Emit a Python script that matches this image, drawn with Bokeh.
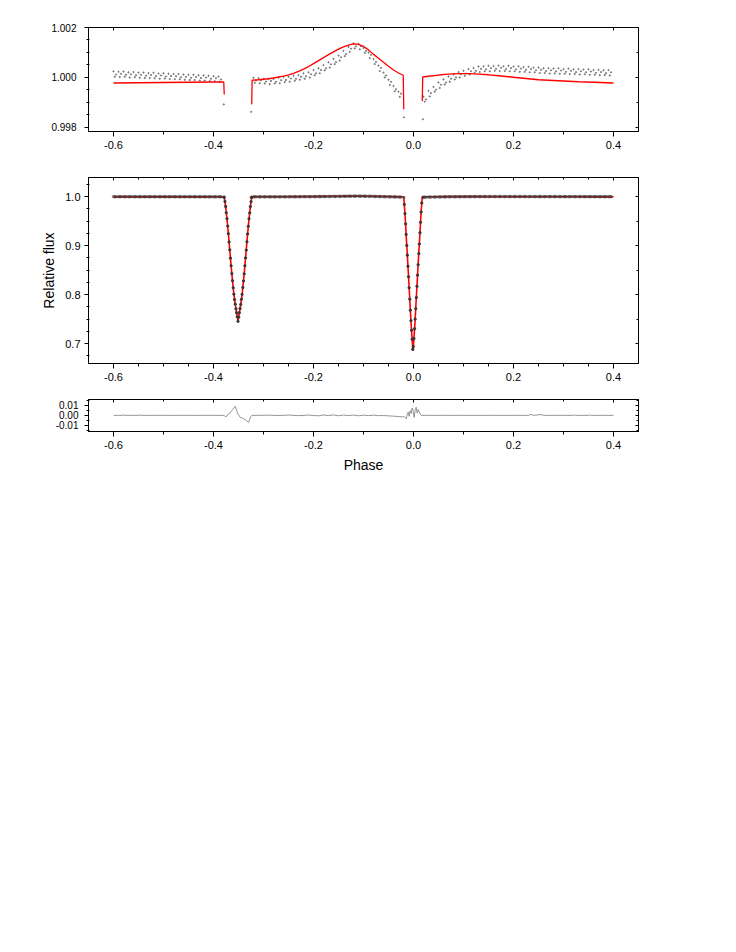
from bokeh.plotting import figure
from bokeh.layouts import column
from bokeh.models import (ColumnDataSource, Range1d, LinearAxis, FixedTicker,
                          NumeralTickFormatter, CustomLabelingPolicy)
from bokeh.transform import dodge
from bokeh.embed import file_html
from bokeh.resources import INLINE

FONT = "Liberation Sans"

# ---------------- tick positions ----------------
X_TICKS = [-0.6, -0.4, -0.2, 0.0, 0.2, 0.4]
X_MINOR_COARSE = [-0.5, -0.3, -0.1, 0.1, 0.3]
X_MINOR_FINE = [-0.55, -0.5, -0.45, -0.35, -0.3, -0.25, -0.15, -0.1, -0.05,
                0.05, 0.1, 0.15, 0.25, 0.3, 0.35]
TOP_Y_TICKS = [0.998, 1.000, 1.002]
TOP_Y_MINOR = [0.9985, 0.999, 0.9995, 1.0005, 1.001, 1.0015]
TOP_Y_MINOR_R = [0.999, 1.001]
MID_Y_TICKS = [0.7, 0.8, 0.9, 1.0]
MID_Y_MINOR = [0.675, 0.725, 0.75, 0.775, 0.825, 0.85, 0.875, 0.925, 0.95,
               0.975, 1.025]
MID_Y_MINOR_R = [0.75, 0.85, 0.95]
RES_Y_TICKS = [-0.01, 0.0, 0.01]
RES_Y_MINOR = [-0.015, -0.005, 0.005, 0.015]

# ---------------- out-of-eclipse data (three rows of the scatter band) ----------------
left_phase = [-0.60, -0.59, -0.58, -0.57, -0.56, -0.55, -0.54, -0.53, -0.52, -0.51,
              -0.50, -0.49, -0.48, -0.47, -0.46, -0.45, -0.44, -0.43, -0.42, -0.41,
              -0.40, -0.39]
left_hi = [1.00024, 1.00022, 1.00023, 1.00020, 1.00021, 1.00019, 1.00019, 1.00017, 1.00018, 1.00015,
           1.00016, 1.00014, 1.00013, 1.00013, 1.00011, 1.00010, 1.00010, 1.00008, 1.00007, 1.00006,
           1.00004, 1.00003]
left_mid = [1.00011, 1.00014, 1.00010, 1.00012, 1.00008, 1.00010, 1.00006, 1.00009, 1.00005, 1.00007,
            1.00003, 1.00005, 1.00004, 1.00000, 1.00002, 0.99998, 1.00001, 0.99997, 0.99999, 0.99994,
            0.99996, 0.99991]
left_lo = [1.00002, 1.00001, 1.00002, 0.99999, 1.00000, 0.99998, 0.99997, 0.99997, 0.99996, 0.99994,
           0.99995, 0.99993, 0.99992, 0.99992, 0.99990, 0.99989, 0.99989, 0.99987, 0.99987, 0.99985,
           0.99984, 0.99982]

mid_phase = [-0.32, -0.31, -0.30, -0.29, -0.28, -0.27, -0.26, -0.25, -0.24, -0.23,
             -0.22, -0.21, -0.20, -0.19, -0.18, -0.17, -0.16, -0.15, -0.14, -0.13,
             -0.12, -0.11, -0.10, -0.09, -0.08, -0.07, -0.06, -0.05, -0.04, -0.03]
mid_hi = [0.99998, 0.99997, 0.99993, 0.99994, 0.99993, 0.99998, 1.00001, 1.00002, 1.00006, 1.00009,
          1.00016, 1.00020, 1.00029, 1.00036, 1.00049, 1.00060, 1.00074, 1.00087, 1.00106, 1.00122,
          1.00136, 1.00134, 1.00118, 1.00099, 1.00073, 1.00047, 1.00019, 0.99990, 0.99965, 0.99942]
mid_mid = [0.99987, 0.99988, 0.99983, 0.99985, 0.99982, 0.99988, 0.99989, 0.99995, 0.99994, 1.00002,
           1.00004, 1.00012, 1.00016, 1.00029, 1.00036, 1.00052, 1.00061, 1.00080, 1.00093, 1.00115,
           1.00124, 1.00125, 1.00106, 1.00090, 1.00061, 1.00038, 1.00007, 0.99982, 0.99952, 0.99934]
mid_lo = [0.99978, 0.99976, 0.99975, 0.99972, 0.99975, 0.99976, 0.99981, 0.99982, 0.99986, 0.99990,
          0.99994, 0.99999, 1.00008, 1.00016, 1.00028, 1.00039, 1.00053, 1.00067, 1.00085, 1.00102,
          1.00116, 1.00112, 1.00098, 1.00077, 1.00053, 1.00025, 0.99999, 0.99969, 0.99944, 0.99921]

right_phase = [0.02, 0.03, 0.04, 0.05, 0.06, 0.07, 0.08, 0.09, 0.10, 0.11,
               0.12, 0.13, 0.14, 0.15, 0.16, 0.17, 0.18, 0.19, 0.20, 0.21,
               0.22, 0.23, 0.24, 0.25, 0.26, 0.27, 0.28, 0.29, 0.30, 0.31,
               0.32, 0.33, 0.34, 0.35, 0.36, 0.37, 0.38, 0.39]
right_hi = [0.99922, 0.99945, 0.99961, 0.99979, 0.99991, 1.00003, 1.00011, 1.00021, 1.00026, 1.00033,
            1.00037, 1.00043, 1.00044, 1.00046, 1.00045, 1.00047, 1.00044, 1.00046, 1.00043, 1.00044,
            1.00041, 1.00042, 1.00039, 1.00039, 1.00036, 1.00037, 1.00035, 1.00036, 1.00033, 1.00035,
            1.00032, 1.00033, 1.00031, 1.00032, 1.00029, 1.00030, 1.00028, 1.00029]
right_mid = [0.99911, 0.99936, 0.99950, 0.99970, 0.99979, 0.99994, 1.00000, 1.00012, 1.00015, 1.00024,
             1.00026, 1.00034, 1.00032, 1.00037, 1.00034, 1.00038, 1.00033, 1.00037, 1.00032, 1.00035,
             1.00030, 1.00033, 1.00028, 1.00030, 1.00025, 1.00028, 1.00024, 1.00027, 1.00022, 1.00026,
             1.00021, 1.00024, 1.00020, 1.00023, 1.00018, 1.00021, 1.00017, 1.00020]
right_lo = [0.99902, 0.99923, 0.99942, 0.99957, 0.99971, 0.99982, 0.99991, 0.99999, 1.00006, 1.00011,
            1.00018, 1.00021, 1.00024, 1.00024, 1.00026, 1.00025, 1.00025, 1.00024, 1.00024, 1.00022,
            1.00022, 1.00020, 1.00020, 1.00017, 1.00017, 1.00015, 1.00016, 1.00014, 1.00014, 1.00013,
            1.00013, 1.00011, 1.00012, 1.00010, 1.00010, 1.00008, 1.00009, 1.00007]

# isolated points at the eclipse edges
edge_phase = [-0.3794, -0.3246, -0.0192, 0.0188]
edge_flux = [0.99891, 0.99861, 0.99839, 0.99831]

# ---------------- in-eclipse data ----------------
sec_phase = [-0.3785, -0.3771, -0.3757, -0.3744, -0.3730, -0.3716, -0.3703, -0.3689, -0.3675, -0.3661,
             -0.3648, -0.3634, -0.3620, -0.3606, -0.3593, -0.3579, -0.3565, -0.3551, -0.3538, -0.3524,
             -0.3510, -0.3496, -0.3483, -0.3469, -0.3455, -0.3441, -0.3428, -0.3414, -0.3400, -0.3386,
             -0.3373, -0.3359, -0.3345, -0.3331, -0.3318, -0.3304, -0.3290, -0.3276, -0.3263, -0.3249,
             -0.3235]
sec_flux = [0.9990, 0.9905, 0.9800, 0.9675, 0.9550, 0.9400, 0.9245, 0.9075, 0.8915, 0.8745,
            0.8590, 0.8430, 0.8285, 0.8140, 0.8010, 0.7900, 0.7805, 0.7710, 0.7630, 0.7545,
            0.7455, 0.7540, 0.7630, 0.7715, 0.7800, 0.7905, 0.8005, 0.8145, 0.8280, 0.8425,
            0.8590, 0.8750, 0.8910, 0.9080, 0.9240, 0.9395, 0.9550, 0.9670, 0.9800, 0.9900,
            0.9988]

pri_phase = [-0.0183, -0.0171, -0.0159, -0.0147, -0.0135, -0.0123, -0.0111, -0.0099, -0.0087, -0.0075,
             -0.0063, -0.0051, -0.0039, -0.0027, -0.0015, -0.0003, 0.0009, 0.0021, 0.0033, 0.0045,
             0.0057, 0.0069, 0.0081, 0.0093, 0.0105, 0.0117, 0.0129, 0.0141, 0.0153, 0.0165]
pri_flux = [0.9843, 0.9655, 0.9446, 0.9230, 0.9005, 0.8806, 0.8580, 0.8365, 0.8140, 0.7908,
            0.7682, 0.7467, 0.7272, 0.7090, 0.6885, 0.6940, 0.7105, 0.7303, 0.7500, 0.7712,
            0.7940, 0.8170, 0.8398, 0.8610, 0.8838, 0.9035, 0.9263, 0.9477, 0.9688, 0.9871]

# ---------------- model (red) ----------------
model_left_phase = [-0.60, -0.55, -0.50, -0.45, -0.40, -0.3795, -0.3785]
model_left_flux = [0.99977, 0.99978, 0.99979, 0.99980, 0.99981, 0.99981, 0.99931]

model_sec_phase = [-0.37575, -0.373, -0.37025, -0.3675, -0.36475, -0.362, -0.35925, -0.3565,
                   -0.35375, -0.351, -0.34825, -0.3455, -0.34275, -0.34, -0.33725, -0.3345,
                   -0.33175, -0.329, -0.32625]
model_sec_flux = [0.9798, 0.9546, 0.9243, 0.8914, 0.8586, 0.8283, 0.8005, 0.7803,
                  0.7627, 0.7475, 0.7627, 0.7803, 0.8005, 0.8283, 0.8586, 0.8914,
                  0.9243, 0.9546, 0.9798]

model_mid_phase = [-0.3235, -0.3228, -0.31, -0.30, -0.29, -0.28, -0.27, -0.26, -0.25, -0.24,
                   -0.23, -0.22, -0.21, -0.20, -0.19, -0.18, -0.17, -0.16, -0.15, -0.14,
                   -0.13, -0.12, -0.11, -0.10, -0.09, -0.08, -0.07, -0.06, -0.05, -0.04,
                   -0.03, -0.0205, -0.0195]
model_mid_flux = [0.99891, 0.99988, 0.99990, 0.99992, 0.99994, 0.99997, 1.00001, 1.00005, 1.00010, 1.00016,
                  1.00024, 1.00033, 1.00043, 1.00055, 1.00067, 1.00079, 1.00091, 1.00102, 1.00113, 1.00122,
                  1.00129, 1.00134, 1.00132, 1.00124, 1.00110, 1.00092, 1.00076, 1.00060, 1.00044, 1.00029,
                  1.00017, 1.00008, 0.99871]

model_pri_phase = [-0.01765, -0.0158, -0.01395, -0.0121, -0.01025, -0.0084, -0.00655, -0.0047,
                   -0.00285, -0.001, 0.00085, 0.0027, 0.00455, 0.0064, 0.00825, 0.0101,
                   0.01195, 0.0138, 0.01565]
model_pri_flux = [0.9748, 0.9433, 0.9087, 0.8772, 0.8425, 0.8079, 0.7732, 0.7386,
                  0.7102, 0.6850, 0.7102, 0.7386, 0.7732, 0.8079, 0.8425, 0.8772,
                  0.9087, 0.9433, 0.9748]

model_right_phase = [0.0175, 0.0185, 0.03, 0.05, 0.07, 0.09, 0.11, 0.13, 0.15, 0.17,
                     0.19, 0.21, 0.23, 0.25, 0.27, 0.30, 0.33, 0.36, 0.40]
model_right_flux = [0.99905, 1.00001, 1.00004, 1.00009, 1.00013, 1.00015, 1.00015, 1.00013, 1.00010, 1.00006,
                    1.00002, 0.99998, 0.99994, 0.99990, 0.99988, 0.99985, 0.99982, 0.99980, 0.99977]

# ---------------- residuals (O - C) ----------------
res_phase = [-0.600, -0.590, -0.583, -0.581, -0.579, -0.560, -0.549, -0.547, -0.545, -0.520,
             -0.500, -0.470, -0.450, -0.420, -0.400, -0.3787, -0.3753, -0.3720, -0.3667, -0.3620,
             -0.3567, -0.3520, -0.3467, -0.3420, -0.3353, -0.3300, -0.3253, -0.3233, -0.310, -0.290,
             -0.270, -0.250, -0.230, -0.210, -0.200, -0.190, -0.180, -0.170, -0.160, -0.150,
             -0.140, -0.130, -0.120, -0.110, -0.100, -0.090, -0.080, -0.070, -0.060, -0.050,
             -0.040, -0.030, -0.0213, -0.0180, -0.0146, -0.0126, -0.0106, -0.0086, -0.0066, -0.0046,
             -0.0026, -0.0006, 0.0014, 0.0034, 0.0054, 0.0074, 0.0094, 0.0114, 0.0134, 0.0154,
             0.030, 0.060, 0.100, 0.150, 0.200, 0.230, 0.235, 0.240, 0.255, 0.260,
             0.280, 0.300, 0.320, 0.322, 0.324, 0.350, 0.352, 0.354, 0.380, 0.400]
res_val = [0.0, 0.0, 0.0, 0.0006, 0.0, 0.0, 0.0, 0.0005, 0.0, 0.0,
           0.0, 0.0, 0.0, 0.0, 0.0, 0.0, -0.0017, 0.0007, 0.0023, 0.0057,
           0.0090, 0.0023, -0.0020, -0.0027, -0.0047, -0.0070, -0.0010, 0.0, 0.0, 0.0002,
           -0.0002, 0.0003, -0.0003, 0.0003, -0.0002, -0.0004, 0.0004, -0.0003, 0.0004, -0.0004,
           0.0003, -0.0003, 0.0003, -0.0004, 0.0002, -0.0003, 0.0002, -0.0003, -0.0002, -0.0005,
           -0.0008, -0.0012, -0.0015, -0.0014, -0.0034, 0.0007, 0.0033, -0.0010, 0.0047, 0.0017,
           0.0073, 0.0040, -0.0020, 0.0057, 0.0080, 0.0023, 0.0057, 0.0033, 0.0013, 0.0,
           0.0, 0.0, 0.0, 0.0, 0.0, 0.0, 0.0010, 0.0, 0.0008, 0.0,
           0.0, 0.0, 0.0, 0.0006, 0.0, 0.0, 0.0005, 0.0, 0.0, 0.0]

# ---------------- sources ----------------
band_src = ColumnDataSource(dict(
    phase=left_phase + mid_phase + right_phase,
    hi=left_hi + mid_hi + right_hi,
    mid=left_mid + mid_mid + right_mid,
    lo=left_lo + mid_lo + right_lo,
))
edge_src = ColumnDataSource(dict(phase=edge_phase, flux=edge_flux))
ecl_src = ColumnDataSource(dict(phase=sec_phase + pri_phase, flux=sec_flux + pri_flux))
full_model_src = ColumnDataSource(dict(
    phase=model_left_phase + model_sec_phase + model_mid_phase + model_pri_phase + model_right_phase,
    flux=model_left_flux + model_sec_flux + model_mid_flux + model_pri_flux + model_right_flux,
))
res_src = ColumnDataSource(dict(phase=res_phase, res=res_val))

X_RANGE = (-0.65, 0.45)
LEFT = 88


def base_fig(frame_h, yr, top_b, bot_b):
    p = figure(frame_width=550, frame_height=frame_h,
               x_range=Range1d(*X_RANGE), y_range=Range1d(*yr),
               output_backend="svg", toolbar_location=None,
               x_axis_location=None, y_axis_location=None,
               min_border_left=LEFT, min_border_right=10,
               min_border_top=top_b, min_border_bottom=bot_b,
               background_fill_color="white", border_fill_color="white")
    p.outline_line_color = "black"
    p.outline_line_width = 1
    p.outline_line_alpha = 1
    for g in p.grid:
        g.visible = False
    return p


def style(ax, label_size, standoff, t_out, t_in, m_out, m_in, labels=True):
    ax.axis_line_color = "black"
    ax.axis_line_width = 1
    ax.major_tick_line_color = "black"
    ax.minor_tick_line_color = "black"
    ax.major_tick_out = t_out
    ax.major_tick_in = t_in
    ax.minor_tick_out = m_out
    ax.minor_tick_in = m_in
    ax.major_label_text_font = FONT
    ax.major_label_text_color = "black"
    ax.major_label_text_font_style = "normal"
    ax.major_label_standoff = standoff
    ax.major_label_text_font_size = label_size
    if not labels:
        # frame-side tick marks only: draw no tick labels at all
        ax.major_label_policy = CustomLabelingPolicy(code="return []")


def add_axes(p, yticks, yminor, yminor_r, yfmt, xminor, ysize, ystand):
    xb = LinearAxis(ticker=FixedTicker(ticks=X_TICKS, minor_ticks=xminor),
                    formatter=NumeralTickFormatter(format="0.0"))
    style(xb, "11px", 4, 5, 0, 3, 0)
    p.add_layout(xb, "below")
    xa = LinearAxis(ticker=FixedTicker(ticks=X_TICKS, minor_ticks=xminor),
                    formatter=NumeralTickFormatter(format="0.0"))
    style(xa, "11px", 0, 0, 3, 0, 2, labels=False)
    p.add_layout(xa, "above")
    yl = LinearAxis(ticker=FixedTicker(ticks=yticks, minor_ticks=yminor),
                    formatter=NumeralTickFormatter(format=yfmt))
    style(yl, ysize, ystand, 4, 0, 2, 1)
    p.add_layout(yl, "left")
    yr = LinearAxis(ticker=FixedTicker(ticks=yticks, minor_ticks=yminor_r),
                    formatter=NumeralTickFormatter(format=yfmt))
    style(yr, "11px", 0, 0, 3, 0, 2, labels=False)
    p.add_layout(yr, "right")
    return xb, yl


# ---------------- top panel: zoom on out-of-eclipse flux ----------------
p1 = base_fig(104, (0.99782, 1.002), 27, 30)
add_axes(p1, TOP_Y_TICKS, TOP_Y_MINOR, TOP_Y_MINOR_R, "0.000", X_MINOR_COARSE, "10px", 8)
dot_kw = dict(size=1.3, color="#666666", alpha=0.75)
p1.scatter(x="phase", y="hi", source=band_src, **dot_kw)
p1.scatter(x=dodge("phase", 0.005), y="mid", source=band_src, **dot_kw)
p1.scatter(x=dodge("phase", 0.0025), y="lo", source=band_src, **dot_kw)
p1.scatter(x="phase", y="flux", source=edge_src, **dot_kw)
for ph, fl in ((model_left_phase, model_left_flux),
               (model_mid_phase, model_mid_flux),
               (model_right_phase, model_right_flux)):
    p1.line(ph, fl, line_color="#ff0000", line_width=1.3)

# ---------------- middle panel: full light curve ----------------
p2 = base_fig(186, (0.6593, 1.0393), 16, 24)
xb2, yl2 = add_axes(p2, MID_Y_TICKS, MID_Y_MINOR, MID_Y_MINOR_R, "0.0", X_MINOR_FINE, "11px", 4)
yl2.axis_label = "Relative flux"
yl2.axis_label_text_font = FONT
yl2.axis_label_text_font_size = "14px"
yl2.axis_label_text_font_style = "normal"
yl2.axis_label_text_color = "black"
yl2.axis_label_standoff = 5
p2.line(x="phase", y="flux", source=full_model_src, line_color="#ff0000", line_width=1.6)
flat_kw = dict(size=2.6, color="#3a3a3a", alpha=0.45)
p2.scatter(x="phase", y="hi", source=band_src, **flat_kw)
p2.scatter(x=dodge("phase", 0.005), y="mid", source=band_src, **flat_kw)
p2.scatter(x=dodge("phase", 0.0025), y="lo", source=band_src, **flat_kw)
p2.scatter(x="phase", y="flux", source=edge_src, **flat_kw)
p2.scatter(x="phase", y="flux", source=ecl_src, size=2.4, color="#333333", alpha=0.85)

# ---------------- bottom panel: residuals ----------------
p3 = base_fig(32, (-0.016, 0.0157), 12, 45)
xb3, yl3 = add_axes(p3, RES_Y_TICKS, RES_Y_MINOR, RES_Y_MINOR, "0.00", X_MINOR_COARSE, "10px", 6)
xb3.axis_label = "Phase"
xb3.axis_label_text_font = FONT
xb3.axis_label_text_font_size = "14px"
xb3.axis_label_text_font_style = "normal"
xb3.axis_label_text_color = "black"
xb3.axis_label_standoff = 5
p3.line(x="phase", y="res", source=res_src, line_color="#7a7a7a", line_width=0.8)

layout = column(p1, p2, p3)
open("out.html", "w").write(file_html(layout, INLINE))
